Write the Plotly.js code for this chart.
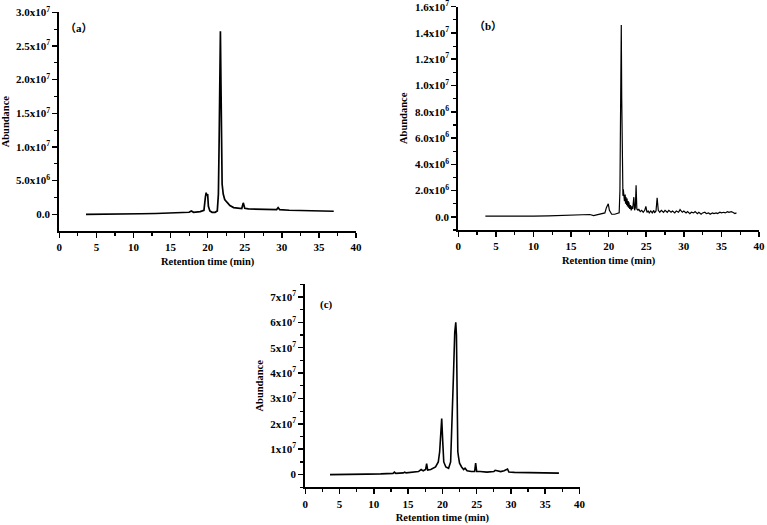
<!DOCTYPE html>
<html>
<head>
<meta charset="utf-8">
<script src="https://cdn.plot.ly/plotly-3.0.1.min.js"></script>
<style>html,body{margin:0;padding:0;background:#fff}#chart{width:767px;height:525px}</style>
</head>
<body>
<div id="chart"></div>
<script>
// Retention time (min) and abundance (in units of 10^6 counts)
const timeA = [3.6,5,7,9,11,13,15,16.5,17.5,17.8,18.1,19,19.5,19.7,19.8,19.9,20.0,20.1,20.3,20.6,21.0,21.3,21.45,21.55,21.65,21.72,21.8,21.88,21.95,22.1,22.3,22.6,23.0,23.5,24.0,24.6,24.8,25.0,25.5,26.5,28,29.3,29.5,29.7,31,33,35,37];
const abundA = [0,0,0.02,0.05,0.08,0.12,0.18,0.25,0.3,0.5,0.3,0.4,0.6,2.6,3.2,2.8,3.0,1.2,0.5,0.3,0.3,0.5,3.0,11,25,27.2,19,9,4.5,3.0,2.2,1.8,1.3,1.0,0.9,0.85,1.7,0.9,0.8,0.75,0.7,0.7,1.0,0.7,0.6,0.55,0.5,0.45];

const timeB = [3.6,4.5,6,8,10,12,14,15.5,16.5,17,17.5,18,18.5,19,19.5,19.7,19.95,20.1,20.4,20.8,
  21.2,21.4,21.5,21.58,21.68,21.74,21.8,21.85,21.9,21.95,22.0,22.05,22.1,22.2,22.25,22.3,22.4,22.45,22.5,22.6,
  22.65,22.7,22.8,22.9,23.0,23.1,23.2,23.35,23.45,23.55,23.65,23.75,23.9,24.0,24.2,24.4,24.6,24.8,24.95,25.1,
  25.25,25.4,25.6,25.8,26.0,26.1,26.3,26.45,26.6,26.8,27,27.3,27.5,27.8,28,28.3,28.5,28.8,29,29.3,
  29.5,29.8,30,30.3,30.5,30.8,31,31.3,31.5,31.8,32,32.3,32.5,32.8,33,33.3,33.5,33.8,34,34.3,
  34.5,34.8,35,35.3,35.5,35.8,36,36.3,36.5,36.8,37];
const abundB = [0.05,0.05,0.0,0.02,0.05,0.07,0.1,0.12,0.15,0.12,0.18,0.1,0.15,0.2,0.3,0.7,1.0,0.5,0.2,0.2,
  0.25,0.3,2.0,7,14.6,9,4,2.3,1.6,2.1,1.4,1.9,1.2,1.7,1.0,1.5,0.9,1.4,0.8,1.2,
  0.7,1.1,0.6,0.9,0.5,0.8,0.6,1.5,0.5,0.7,2.4,0.6,0.5,0.6,0.4,0.5,0.35,0.5,0.8,0.35,
  0.45,0.3,0.45,0.3,0.5,0.3,0.45,1.45,0.5,0.35,0.5,0.35,0.5,0.35,0.5,0.35,0.45,0.3,0.45,0.35,
  0.55,0.35,0.45,0.3,0.4,0.25,0.35,0.3,0.4,0.25,0.35,0.2,0.3,0.35,0.25,0.3,0.2,0.3,0.25,0.3,
  0.25,0.35,0.3,0.35,0.3,0.4,0.35,0.4,0.35,0.25,0.3];

const timeC = [3.6,5,7,9,11,12.8,13.0,13.2,14.3,14.5,14.7,15.5,16.5,16.9,17.2,17.55,17.7,17.85,18.3,19.0,19.4,19.6,19.75,19.9,20.05,20.2,20.5,20.9,21.2,21.4,21.6,21.8,21.95,22.05,22.15,22.25,22.35,22.5,22.8,23.1,23.3,23.6,24.2,24.7,24.85,25.0,25.5,26.5,27.5,27.7,28.5,29.0,29.5,29.7,30.5,32,34,37];
const abundC = [0.0,0.0,0.1,0.2,0.3,0.5,1.0,0.5,0.7,1.0,0.7,0.8,1.2,2.0,1.5,2.0,4.3,1.8,2.0,3.0,5,9,16,22.1,13,5,3,2.5,5,18,38,56,60,55,25,9,7,4.5,3,2,2.5,1.5,1.2,1.2,4.5,1.2,1.2,1.0,1.2,1.7,1.2,1.5,2.2,1.0,0.9,0.8,0.7,0.6];

const xTicks = [0,5,10,15,20,25,30,35,40];
const yTicksA = [0,5,10,15,20,25,30];
const yLabelsA = ["0.0","5.0x10<sup>6</sup>","1.0x10<sup>7</sup>","1.5x10<sup>7</sup>","2.0x10<sup>7</sup>","2.5x10<sup>7</sup>","3.0x10<sup>7</sup>"];
const yTicksB = [0,2,4,6,8,10,12,14,16];
const yLabelsB = ["0.0","2.0x10<sup>6</sup>","4.0x10<sup>6</sup>","6.0x10<sup>6</sup>","8.0x10<sup>6</sup>","1.0x10<sup>7</sup>","1.2x10<sup>7</sup>","1.4x10<sup>7</sup>","1.6x10<sup>7</sup>"];
const yTicksC = [0,10,20,30,40,50,60,70];
const yLabelsC = ["0","1x10<sup>7</sup>","2x10<sup>7</sup>","3x10<sup>7</sup>","4x10<sup>7</sup>","5x10<sup>7</sup>","6x10<sup>7</sup>","7x10<sup>7</sup>"];
const panelLabels = ["（a）","（b）","(c)"];
const xTitle = "Retention time (min)";
const yTitle = "Abundance";

const W = 767, H = 525;
const tickFont = {family:"Liberation Serif", size:11, color:"#000", weight:"bold"};
const titleFont = {family:"Liberation Serif", size:10.5, color:"#000", weight:"bold"};
const labelFont = {family:"Liberation Serif, Noto Sans CJK SC", size:11, color:"#000", weight:"bold"};

function xAxis(x0, x1, anchor){
  return {domain:[x0/W, x1/W], anchor:anchor, range:[0,40], tickvals:xTicks,
    ticktext:xTicks.map(String), ticks:"outside", ticklen:5, tickwidth:1.5, tickcolor:"#000",
    minor:{ticks:"outside", ticklen:3, tickwidth:1.2, tickcolor:"#000", dtick:2.5, tick0:0},
    showline:true, linecolor:"#000", linewidth:2, showgrid:false, zeroline:false,
    tickfont:tickFont, automargin:false, ticklabeloverflow:"allow",
    title:{text:xTitle, font:titleFont, standoff:5}};
}
function yAxis(top, bot, anchor, range, tv, tt, mdt){
  return {domain:[(H-bot)/H, (H-top)/H], anchor:anchor, range:range, tickvals:tv, ticktext:tt,
    ticks:"outside", ticklen:5, tickwidth:1.5, tickcolor:"#000",
    minor:{ticks:"outside", ticklen:3, tickwidth:1.2, tickcolor:"#000", dtick:mdt, tick0:0},
    showline:true, linecolor:"#000", linewidth:2, showgrid:false, zeroline:false,
    tickfont:tickFont, automargin:false, ticklabeloverflow:"allow",
    title:{text:yTitle, font:titleFont, standoff:5}};
}

const data = [
  {x:timeA, y:abundA, xaxis:"x", yaxis:"y", mode:"lines", line:{color:"#000", width:1.7}, showlegend:false},
  {x:timeB, y:abundB, xaxis:"x2", yaxis:"y2", mode:"lines", line:{color:"#000", width:1.2}, showlegend:false},
  {x:timeC, y:abundC, xaxis:"x3", yaxis:"y3", mode:"lines", line:{color:"#000", width:1.6}, showlegend:false}
];

const layout = {
  width:W, height:H, margin:{l:0,r:0,t:0,b:0},
  paper_bgcolor:"#fff", plot_bgcolor:"rgba(0,0,0,0)", showlegend:false,
  xaxis: xAxis(59.3, 356, "y"),
  yaxis: yAxis(12.3, 231, "x", [-2.48, 30], yTicksA, yLabelsA, 2.5),
  xaxis2: xAxis(458.3, 759, "y2"),
  yaxis2: yAxis(6.7, 230, "x2", [-1.0, 16], yTicksB, yLabelsB, 1),
  xaxis3: xAxis(305.3, 579.5, "y3"),
  yaxis3: yAxis(284.3, 487.3, "x3", [-5, 75], yTicksC, yLabelsC, 5),
  annotations: [
    {text:panelLabels[0], xref:"x domain", yref:"y domain", x:0.012, y:0.93, xanchor:"left", yanchor:"middle", showarrow:false, font:labelFont},
    {text:panelLabels[1], xref:"x2 domain", yref:"y2 domain", x:0.045, y:0.915, xanchor:"left", yanchor:"middle", showarrow:false, font:labelFont},
    {text:panelLabels[2], xref:"x3 domain", yref:"y3 domain", x:0.047, y:0.9, xanchor:"left", yanchor:"middle", showarrow:false, font:labelFont}
  ]
};

Plotly.newPlot("chart", data, layout, {displayModeBar:false, staticPlot:true});
</script>
</body>
</html>
